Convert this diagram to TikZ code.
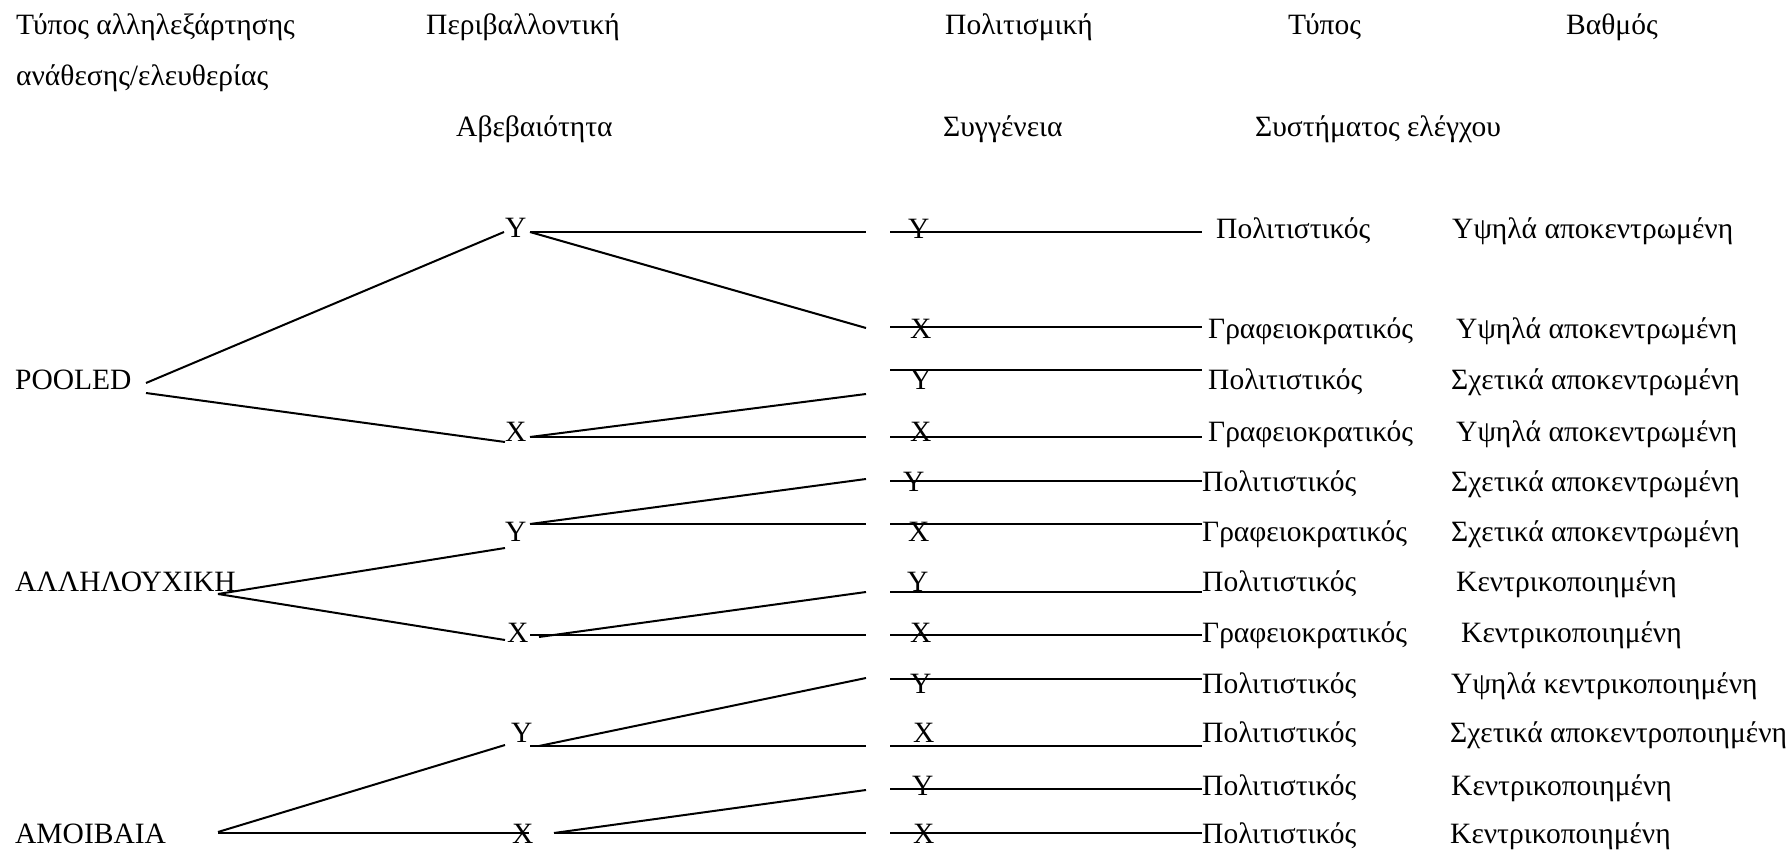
\documentclass[tikz,border=0pt]{standalone}
\usepackage{fontspec}
\setmainfont{Liberation Serif}
\begin{document}
\begin{tikzpicture}[x=1pt,y=-1pt,
  lbl/.style={inner sep=0pt,anchor=base west,font=\fontsize{29.5}{34}\selectfont},
  link/.style={line width=2pt,line cap=butt}]
\useasboundingbox (0,0) rectangle (1792,850);

% column headings
\node[lbl] (h1) at (16,35) {Τύπος αλληλεξάρτησης};
\node[lbl] (h1b) at (16,86) {ανάθεσης/ελευθερίας};
\node[lbl] (h2) at (426,35) {Περιβαλλοντική};
\node[lbl] (h2b) at (456,137) {Αβεβαιότητα};
\node[lbl] (h3) at (945,35) {Πολιτισμική};
\node[lbl] (h3b) at (943,137) {Συγγένεια};
\node[lbl] (h4) at (1288,35) {Τύπος};
\node[lbl] (h4b) at (1255,137) {Συστήματος ελέγχου};
\node[lbl] (h5) at (1566,35) {Βαθμός};

% interdependence types
\node[lbl] (pool) at (15,389) {POOLED};
\node[lbl] (seq) at (15,591) {ΑΛΛΗΛΟΥΧΙΚΗ};
\node[lbl] (recip) at (15,843) {ΑΜΟΙΒΑΙΑ};

% environmental uncertainty
\node[lbl] (u1) at (505,238) {Y};
\node[lbl] (u2) at (505,441) {X};
\node[lbl] (u3) at (505,541) {Y};
\node[lbl] (u4) at (507,642) {X};
\node[lbl] (u5) at (511,742) {Y};
\node[lbl] (u6) at (512,843) {X};

% branch end points
\coordinate (pA) at (146,383);  \coordinate (pB) at (146,393);
\coordinate (sA) at (218,594);
\coordinate (rA) at (218,832);  \coordinate (rB) at (218,833);
\coordinate (u1in) at (504,232); \coordinate (u2in) at (505,442);
\coordinate (u3in) at (505,548); \coordinate (u4in) at (505,640);
\coordinate (u5in) at (505,745); \coordinate (u6in) at (529,833);
\coordinate (u1out) at (530,232); \coordinate (u2out) at (530,437);
\coordinate (u3out) at (530,524); \coordinate (u4out) at (530,635);
\coordinate (u4outb) at (539,637);
\coordinate (u5out) at (530,746); \coordinate (u5outb) at (539,746);
\coordinate (u6out) at (554,833);

% first level branches
\draw[link] (pA) -- (u1in);
\draw[link] (pB) -- (u2in);
\draw[link] (sA) -- (u3in);
\draw[link] (sA) -- (u4in);
\draw[link] (rA) -- (u5in);
\draw[link] (rB) -- (u6in);

% second level branches
\foreach \i/\y in {1/232,2/328,3/394,4/437,5/479,6/524,7/592,8/635,9/678,10/746,11/790,12/833}
  \coordinate (k\i) at (866,\y);
\draw[link] (u1out) -- (k1);
\draw[link] (u1out) -- (k2);
\draw[link] (u2out) -- (k3);
\draw[link] (u2out) -- (k4);
\draw[link] (u3out) -- (k5);
\draw[link] (u3out) -- (k6);
\draw[link] (u4outb) -- (k7);
\draw[link] (u4out) -- (k8);
\draw[link] (u5outb) -- (k9);
\draw[link] (u5out) -- (k10);
\draw[link] (u6out) -- (k11);
\draw[link] (u6out) -- (k12);

% cultural affinity, control system type and degree
\foreach \i/\ly/\c/\cx/\b/\tx/\typ/\dx/\deg in {
  1/232/Y/908/239/1216/Πολιτιστικός/1452/Υψηλά αποκεντρωμένη,
  2/327/X/910/339/1208/Γραφειοκρατικός/1456/Υψηλά αποκεντρωμένη,
  3/370/Y/910/389/1208/Πολιτιστικός/1451/Σχετικά αποκεντρωμένη,
  4/437/X/910/441/1208/Γραφειοκρατικός/1456/Υψηλά αποκεντρωμένη,
  5/481/Y/903/491/1202/Πολιτιστικός/1451/Σχετικά αποκεντρωμένη,
  6/524/X/908/541/1202/Γραφειοκρατικός/1451/Σχετικά αποκεντρωμένη,
  7/592/Y/907/591/1202/Πολιτιστικός/1456/Κεντρικοποιημένη,
  8/635/X/910/642/1202/Γραφειοκρατικός/1461/Κεντρικοποιημένη,
  9/679/Y/910/693/1202/Πολιτιστικός/1451/Υψηλά κεντρικοποιημένη,
  10/746/X/913/742/1202/Πολιτιστικός/1450/Σχετικά αποκεντροποιημένη,
  11/789/Y/912/795/1202/Πολιτιστικός/1451/Κεντρικοποιημένη,
  12/833/X/913/843/1202/Πολιτιστικός/1450/Κεντρικοποιημένη}{
  \node[lbl] (c\i) at (\cx,\b) {\c};
  \node[lbl] (t\i) at (\tx,\b) {\typ};
  \node[lbl] (d\i) at (\dx,\b) {\deg};
  \coordinate (cs\i) at (890,\ly);
  \coordinate (ce\i) at (1202,\ly);
  \draw[link] (cs\i) -- (ce\i);
}
\end{tikzpicture}
\end{document}
